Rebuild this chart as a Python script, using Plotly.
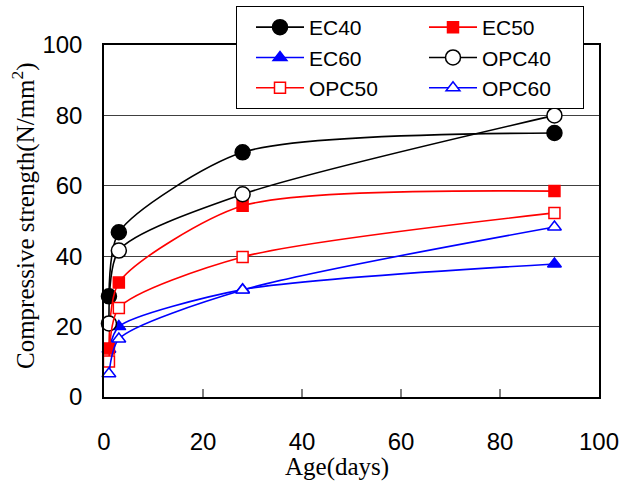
import plotly.graph_objects as go

days = [1, 3, 28, 91]
ec40 = [28.6, 46.8, 69.5, 75.0]
ec50 = [13.8, 32.5, 54.3, 58.5]
ec60 = [13.6, 20.0, 30.5, 37.8]
opc40 = [20.9, 41.6, 57.6, 80.0]
opc50 = [10.1, 25.3, 39.8, 52.3]
opc60 = [6.6, 16.5, 30.4, 48.3]

x_title = "Age(days)"
y_title = "Compressive strength(N/mm<sup>2</sup>)"

# (legend name, values, colour, symbol, fill, size, legend rank); drawn in list order
series = [
    ("EC40", ec40, "black", "circle", "black", 15, 1),
    ("EC60", ec60, "blue", "triangle-up", "blue", 12, 3),
    ("EC50", ec50, "red", "square", "red", 11, 2),
    ("OPC40\u00a0\u00a0\u00a0", opc40, "black", "circle", "white", 15, 4),
    ("OPC50", opc50, "red", "square", "white", 11, 5),
    ("OPC60", opc60, "blue", "triangle-up", "white", 12, 6),
]

fig = go.Figure()
for name, vals, col, sym, fill, size, rank in series:
    fig.add_trace(go.Scatter(
        x=days, y=vals, name=name, mode="lines+markers", legendrank=rank,
        line=dict(color=col, width=1.6, shape="spline", smoothing=0.7),
        marker=dict(symbol=sym, size=size, color=fill, line=dict(color=col, width=1.5)),
        cliponaxis=False,
    ))

fig.update_layout(
    width=623, height=485,
    margin=dict(l=104, r=24, t=45, b=88, autoexpand=False),
    plot_bgcolor="white", paper_bgcolor="white",
    font=dict(family="Liberation Sans, Arial", size=24, color="black"),
    showlegend=True,
    legend=dict(
        xref="container", yref="container",
        x=236/623, y=1-6/485, xanchor="left", yanchor="top",
        orientation="h", entrywidth=96, entrywidthmode="pixels",
        itemwidth=48, indentation=14,
        bgcolor="white", bordercolor="black", borderwidth=1,
        font=dict(family="Liberation Sans, Arial", size=21, color="black"),
        tracegroupgap=0,
    ),
    xaxis=dict(
        range=[0, 100], tickvals=[0, 20, 40, 60, 80, 100],
        showgrid=False, zeroline=False,
        showline=True, mirror=True, linecolor="black", linewidth=1.5,
        ticks="inside", ticklen=8, tickcolor="#808080", tickwidth=1.5,
        ticklabelstandoff=22,
        tickfont=dict(size=24),
    ),
    yaxis=dict(
        range=[0, 100], tickvals=[0, 20, 40, 60, 80, 100],
        showgrid=True, gridcolor="#404040", gridwidth=1, zeroline=False,
        showline=True, mirror=True, linecolor="black", linewidth=1.5,
        ticks="", ticklabelstandoff=15,
        tickfont=dict(size=24),
    ),
    annotations=[
        dict(text=x_title, xref="paper", yref="paper",
             x=(337 - 104) / 495, y=(397 - 467) / 352,
             xanchor="center", yanchor="middle", showarrow=False,
             font=dict(family="Liberation Serif, Times New Roman", size=25, color="black")),
        dict(text=y_title, xref="paper", yref="paper",
             x=(23 - 104) / 495, y=(397 - 216) / 352, textangle=-90,
             xanchor="center", yanchor="middle", showarrow=False,
             font=dict(family="Liberation Serif, Times New Roman", size=25, color="black")),
    ],
)

fig.write_html("out.html")
